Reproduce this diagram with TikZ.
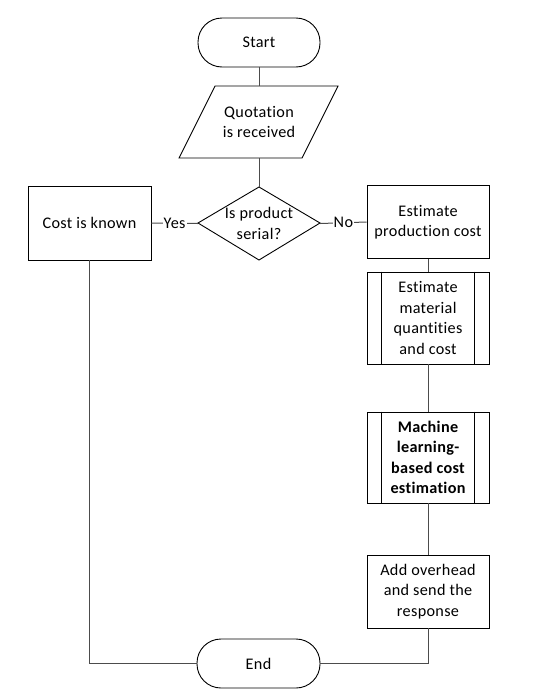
\documentclass[tikz,border=0pt]{standalone}
\usepackage{fontspec}
\setmainfont{Carlito}[Ligatures=NoCommon, LetterSpace=2]
\begin{document}
\begin{tikzpicture}[x=1pt,y=-1pt,
  every node/.style={font=\fontsize{16.2}{20.5}\selectfont, align=center, text=black},
  shapebox/.style={draw=black, line width=0.9pt, fill=white, rectangle, inner sep=0pt},
  term/.style={shapebox, rounded corners=24pt, minimum width=122pt, minimum height=49pt},
  proc/.style={shapebox, minimum width=122pt, minimum height=73pt},
  conn/.style={draw=black!70, line width=1pt},
  lbl/.style={fill=white, inner sep=1pt}]
\useasboundingbox (0,0) rectangle (541,699);
% Start
\node[term] (start) at (259,42.5) {Start};
% Parallelogram
\draw[line width=0.9pt, fill=white] (215,86) -- (338,86) -- (302,158) -- (179,158) -- cycle;
\node[minimum width=122pt, minimum height=72pt, inner sep=0pt] (quot) at (259,122) {Quotation\\is received};
% Decision
\draw[line width=0.9pt, fill=white] (259,187) -- (320,223) -- (259,260) -- (198,223) -- cycle;
\node[minimum width=122pt, minimum height=73pt, inner sep=0pt] (dec) at (259,223.5) {Is product\\serial?};
% Cost known
\node[proc, minimum width=123pt, minimum height=74pt] (known) at (89.5,223) {Cost is known};
% Estimate production cost
\node[proc] (est) at (428,222) {Estimate\\production cost};
% Predefined process 1
\node[proc, minimum height=92pt] (mat) at (428,318) {Estimate\\material\\quantities\\and cost};
\draw[line width=0.9pt] ([xshift=15pt]mat.north west) -- ([xshift=15pt]mat.south west)
  ([xshift=-15pt]mat.north east) -- ([xshift=-15pt]mat.south east);
% ML
\node[proc, minimum height=91pt, font=\fontsize{16.2}{20.5}\selectfont\bfseries] (ml) at (428,457.5) {Machine\\learning-\\based cost\\estimation};
\draw[line width=0.9pt] ([xshift=15pt]ml.north west) -- ([xshift=15pt]ml.south west)
  ([xshift=-15pt]ml.north east) -- ([xshift=-15pt]ml.south east);
% Add overhead
\node[proc] (add) at (428,591.5) {Add overhead\\and send the\\response};
% End
\node[term, minimum width=123pt] (end) at (258.5,663.5) {End};
% Connectors
\draw[conn] (start.south) -- (quot.north);
\draw[conn] (quot.south) -- (dec.north);
\draw[conn] (dec.west) -- node[lbl] {Yes} (known.east);
\draw[conn] (dec.east) -- node[lbl] {No} (est.west);
\draw[conn] (est.south) -- (mat.north);
\draw[conn] (mat.south) -- (ml.north);
\draw[conn] (ml.south) -- (add.north);
\draw[conn] (known.south) |- (end.west);
\draw[conn] (add.south) |- (end.east);
\end{tikzpicture}
\end{document}
